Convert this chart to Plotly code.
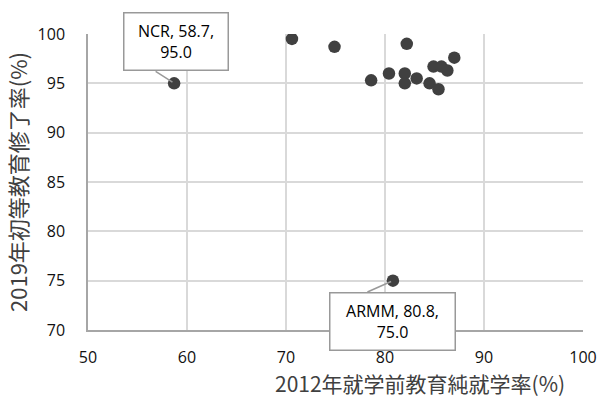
import plotly.graph_objects as go

# Data
x_vals = [58.7, 70.6, 74.9, 82.2, 87.0, 84.9, 85.7, 86.3, 80.4, 82.0, 82.0, 83.2, 78.6, 84.5, 85.4, 80.8]
y_vals = [95.0, 99.5, 98.7, 99.0, 97.6, 96.7, 96.7, 96.3, 96.0, 96.0, 95.0, 95.5, 95.3, 95.0, 94.4, 75.0]

label_names = ["NCR", "ARMM"]
label_x = [58.7, 80.8]
label_y = [95.0, 75.0]

x_title = "2012年就学前教育純就学率(%)"
y_title = "2019年初等教育修了率(%)"

x_ticks = [50, 60, 70, 80, 90, 100]
y_ticks = [70, 75, 80, 85, 90, 95, 100]

# callout styling (pixel offsets)
box_offsets = [(2, -42), (0, 41)]
tail_offsets = [(-20, -13), (-27, 12)]
box_widths = [97, 118]

FONT = "Noto Sans CJK JP"
TICK_FONT = dict(family="Open Sans", size=16, color="#111111")

fig = go.Figure()
fig.add_trace(go.Scatter(
    x=x_vals, y=y_vals, mode="markers",
    marker=dict(size=12.5, color="#404040"),
    showlegend=False, hoverinfo="x+y",
))

for name, lx, ly, (bx, by), (tx, ty), w in zip(label_names, label_x, label_y,
                                               box_offsets, tail_offsets, box_widths):
    # tail
    fig.add_annotation(
        x=lx, y=ly, xref="x", yref="y", text="",
        showarrow=True, arrowhead=0, arrowwidth=1.5, arrowcolor="#999999",
        ax=tx, ay=ty, standoff=2,
    )
    # box
    fig.add_annotation(
        x=lx, y=ly, xref="x", yref="y",
        text=f"{name}, {lx:.1f},<br>{ly:.1f}",
        showarrow=True, arrowhead=0, arrowwidth=1, arrowcolor="rgba(0,0,0,0)",
        ax=bx, ay=by,
        bgcolor="white", bordercolor="#999999", borderwidth=1.5, borderpad=3,
        width=w, height=50,
        font=dict(family="Open Sans", size=16, color="#000000"),
    )

fig.add_annotation(
    x=0.67, y=-0.179, xref="paper", yref="paper", text=x_title, showarrow=False,
    xanchor="center", yanchor="middle",
    font=dict(family=FONT, size=21, color="#404040"),
)

fig.update_layout(
    width=597, height=397,
    margin=dict(l=88, r=14, t=34, b=67, autoexpand=False),
    paper_bgcolor="white", plot_bgcolor="white",
    font=dict(family=FONT),
    xaxis=dict(
        range=[50, 100], tickvals=x_ticks, ticktext=[str(t) for t in x_ticks],
        showgrid=True, gridcolor="#D9D9D9", gridwidth=1.5,
        showline=True, linecolor="#A6A6A6", linewidth=1.5,
        zeroline=False, ticks="", tickfont=TICK_FONT, ticklabelstandoff=12,
        automargin=False,
    ),
    yaxis=dict(
        range=[70, 100], tickvals=y_ticks, ticktext=[str(t) for t in y_ticks],
        showgrid=True, gridcolor="#D9D9D9", gridwidth=1.5,
        showline=True, linecolor="#A6A6A6", linewidth=1.5,
        zeroline=False, ticks="", tickfont=TICK_FONT, ticklabelstandoff=18,
        automargin=False,
        title=dict(text=y_title, font=dict(family=FONT, size=22, color="#404040"), standoff=4),
    ),
)

fig.write_html("out.html")
